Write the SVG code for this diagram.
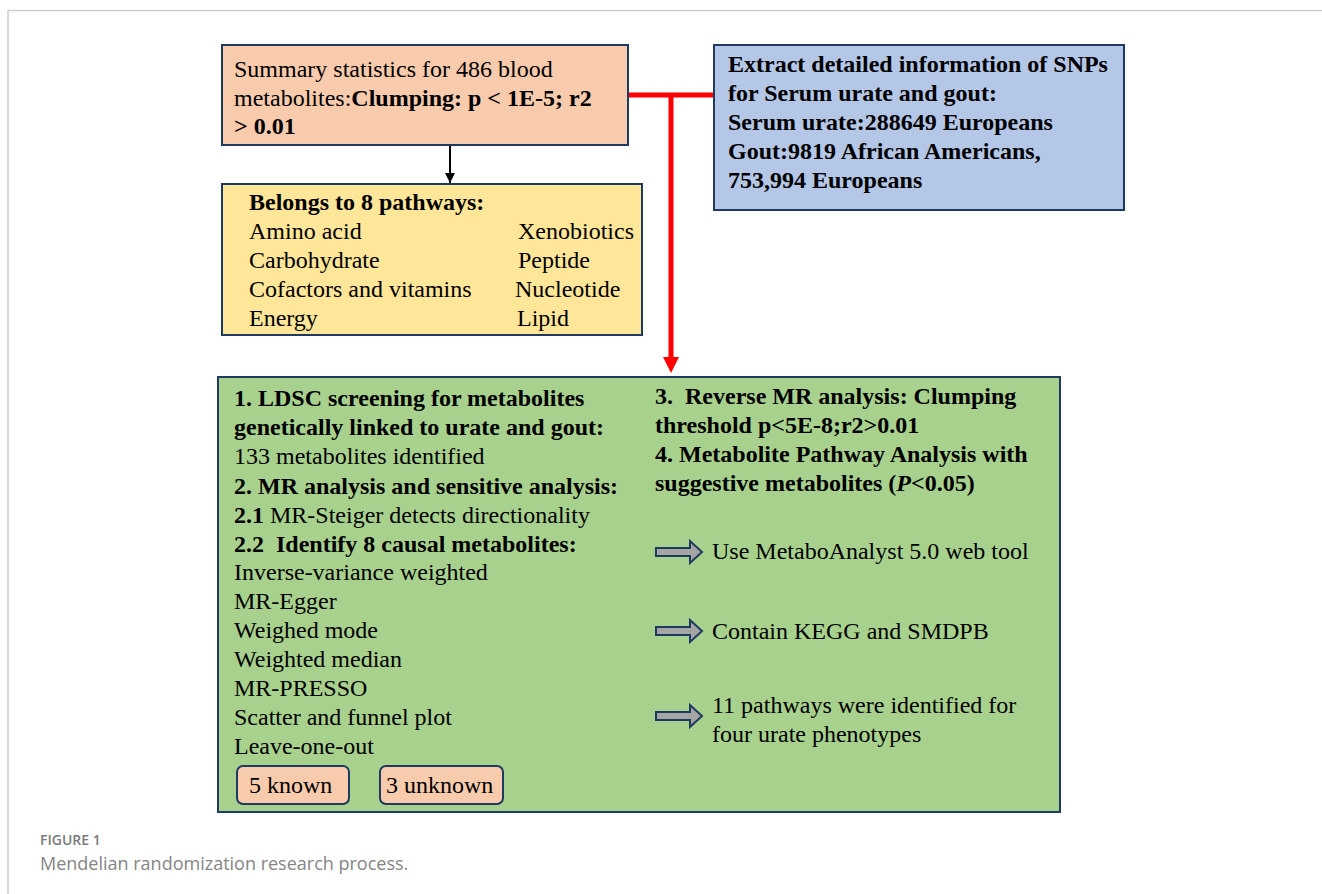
<svg xmlns="http://www.w3.org/2000/svg" width="1322" height="894" viewBox="0 0 1322 894">
<defs>
<style>
.t{font-family:"Liberation Serif","Times New Roman",serif;font-size:24px;fill:#000}
.b{font-weight:bold}
.box{stroke:#1f3a60;stroke-width:2}
.cap1{font-family:"Open Sans","Noto Sans",sans-serif;font-size:14px;font-weight:600;fill:#7a7a7a}
.cap2{font-family:"Open Sans","Noto Sans",sans-serif;font-size:18px;fill:#858585}
.barrow{fill:#a5a5a5;stroke:#1f3a60;stroke-width:2;stroke-linejoin:miter}
</style>
<marker id="blk" viewBox="0 0 10 10" refX="10" refY="5" markerWidth="10" markerHeight="10" markerUnits="userSpaceOnUse" orient="auto"><path d="M0,0 L10,5 L0,10 z" fill="#000"/></marker>
<symbol id="ba" overflow="visible"><path class="barrow" d="M0,-4 L34,-4 L34,-11 L46,0 L34,11 L34,4 L0,4 z"/></symbol>
</defs>
<rect x="0" y="0" width="1322" height="894" fill="#fff"/>
<path d="M8,894 V10.5 H1322" fill="none" stroke="#cfcfcf" stroke-width="1.5"/>

<g id="connectors">
<line x1="450" y1="145" x2="450" y2="183" stroke="#000" stroke-width="2" marker-end="url(#blk)"/>
<line x1="629" y1="95" x2="714" y2="95" stroke="#ff0000" stroke-width="5"/>
<line x1="671" y1="95" x2="671" y2="358" stroke="#ff0000" stroke-width="5"/>
<path d="M663,357 L679,357 L671,373 z" fill="#ff0000"/>
</g>

<g id="summary">
<rect class="box" x="222" y="45" width="406" height="100" fill="#f8cbad"/>
<text class="t" x="234" y="77">Summary statistics for 486 blood</text>
<text class="t" x="234" y="106">metabolites:<tspan class="b">Clumping: p &lt; 1E-5; r2</tspan></text>
<text class="t b" x="234" y="134">&gt; 0.01</text>
</g>

<g id="extract">
<rect class="box" x="714" y="45" width="410" height="165" fill="#b4c7e7"/>
<text class="t b" x="728" y="72">Extract detailed information of SNPs</text>
<text class="t b" x="728" y="101">for Serum urate and gout:</text>
<text class="t b" x="728" y="130">Serum urate:288649 Europeans</text>
<text class="t b" x="728" y="159">Gout:9819 African Americans,</text>
<text class="t b" x="728" y="188">753,994 Europeans</text>
</g>

<g id="pathways">
<rect class="box" x="222" y="184" width="420" height="151" fill="#ffe699"/>
<text class="t b" x="249" y="210">Belongs to 8 pathways:</text>
<text class="t" x="249" y="239">Amino acid</text>
<text class="t" x="249" y="268">Carbohydrate</text>
<text class="t" x="249" y="297">Cofactors and vitamins</text>
<text class="t" x="249" y="326">Energy</text>
<text class="t" x="518" y="239">Xenobiotics</text>
<text class="t" x="518" y="268">Peptide</text>
<text class="t" x="515" y="297">Nucleotide</text>
<text class="t" x="517" y="326">Lipid</text>
</g>

<g id="analysis">
<rect class="box" x="218" y="377" width="842" height="435" fill="#a9d18e"/>
<text class="t b" x="234" y="406">1. LDSC screening for metabolites</text>
<text class="t b" x="234" y="435">genetically linked to urate and gout:</text>
<text class="t" x="234" y="464">133 metabolites identified</text>
<text class="t b" x="234" y="494">2. MR analysis and sensitive analysis:</text>
<text class="t" x="234" y="523"><tspan class="b">2.1</tspan> MR-Steiger detects directionality</text>
<text class="t b" x="234" y="552" xml:space="preserve">2.2  Identify 8 causal metabolites:</text>
<text class="t" x="234" y="580">Inverse-variance weighted</text>
<text class="t" x="234" y="609">MR-Egger</text>
<text class="t" x="234" y="638">Weighed mode</text>
<text class="t" x="234" y="667">Weighted median</text>
<text class="t" x="234" y="696">MR-PRESSO</text>
<text class="t" x="234" y="725">Scatter and funnel plot</text>
<text class="t" x="234" y="754">Leave-one-out</text>

<text class="t b" x="655" y="404" xml:space="preserve">3.  Reverse MR analysis: Clumping</text>
<text class="t b" x="655" y="433">threshold p&lt;5E-8;r2&gt;0.01</text>
<text class="t b" x="655" y="462">4. Metabolite Pathway Analysis with</text>
<text class="t b" x="655" y="491">suggestive metabolites (<tspan font-style="italic">P</tspan>&lt;0.05)</text>
</g>

<g id="known">
<rect class="box" x="237" y="766" width="112" height="38" rx="6" fill="#f8cbad"/>
<text class="t" x="249" y="793">5 known</text>
</g>
<g id="unknown">
<rect class="box" x="380" y="766" width="123" height="38" rx="6" fill="#f8cbad"/>
<text class="t" x="386" y="793">3 unknown</text>
</g>

<g id="step-metaboanalyst">
<use href="#ba" x="656" y="552"/>
<text class="t" x="712" y="559">Use MetaboAnalyst 5.0 web tool</text>
</g>
<g id="step-kegg">
<use href="#ba" x="656" y="631"/>
<text class="t" x="712" y="639">Contain KEGG and SMDPB</text>
</g>
<g id="step-pathways">
<use href="#ba" x="656" y="716"/>
<text class="t" x="712" y="713">11 pathways were identified for</text>
<text class="t" x="712" y="742">four urate phenotypes</text>
</g>

<g id="caption">
<text class="cap1" x="40" y="845">FIGURE 1</text>
<text class="cap2" x="40" y="870">Mendelian randomization research process.</text>
</g>
</svg>
